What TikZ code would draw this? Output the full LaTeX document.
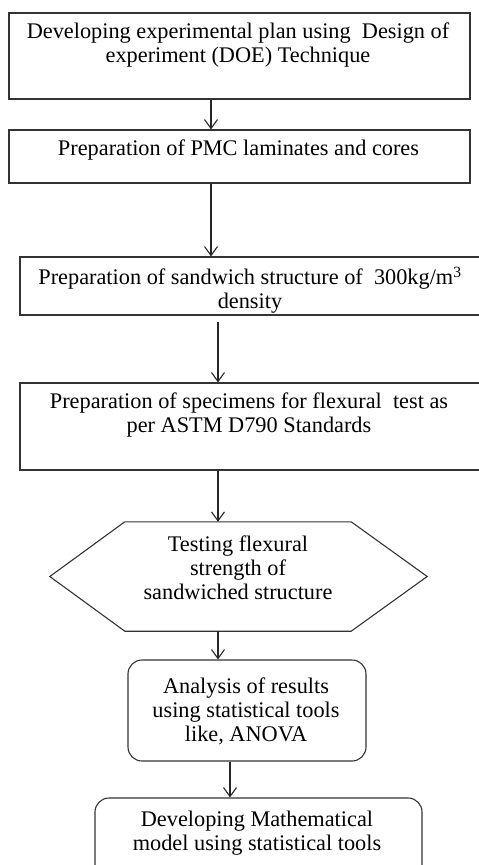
\documentclass[tikz,border=0pt]{standalone}
\usepackage{fontspec}
\setmainfont{Liberation Serif}
\usetikzlibrary{arrows.meta,calc}
\begin{document}
\begin{tikzpicture}[x=1pt,y=-1pt,
  box/.style={draw=black!80, line width=1.1pt, rectangle, inner sep=0pt},
  rbox/.style={box, rounded corners=14pt},
  hexbox/.style={rectangle, inner sep=0pt},
  txt/.style={align=center, font=\fontsize{22.3}{24}\selectfont, inner sep=0pt, text=black},
  arr/.style={draw=black!85, line width=1.1pt, -{Straight Barb[length=9pt,width=13pt]}}]
\useasboundingbox (0,0) rectangle (479,865);
\clip (0,0) rectangle (479,865);
% boxes
\node[box, minimum width=461pt, minimum height=86pt] (b1) at (239.5,56) {};
\node[txt] (t1) at (238,45) {Developing experimental plan using~ Design of\\experiment (DOE) Technique};
\node[box, minimum width=461pt, minimum height=53pt] (b2) at (239.5,156.5) {};
\node[txt] (t2) at (238.5,150) {Preparation of PMC laminates and cores};
\node[box, minimum width=480pt, minimum height=58pt] (b3) at (260,286) {};
\node[txt] (t3) at (250,290) {Preparation of sandwich structure of~ 300kg/m\textsuperscript{3}\\density};
\node[box, minimum width=480pt, minimum height=87pt] (b4) at (260,426.5) {};
\node[txt] (t4) at (249,415) {Preparation of specimens for flexural~ test as\\per ASTM D790 Standards};
\node[hexbox, minimum width=377pt, minimum height=109pt] (hex) at (238.5,576.5) {};
\draw[draw=black!80, line width=1.1pt] (hex.west) -- ([xshift=75pt]hex.north west) -- ([xshift=-76pt]hex.north east) -- (hex.east) -- ([xshift=-76pt]hex.south east) -- ([xshift=75pt]hex.south west) -- cycle;
\node[txt] (t5) at (238,567.5) {Testing flexural\\strength of\\sandwiched structure};
\node[rbox, minimum width=238pt, minimum height=101pt] (b6) at (247,710.5) {};
\node[txt] (t6) at (246,711) {Analysis of results\\using statistical tools\\like, ANOVA};
\node[rbox, minimum width=327pt, minimum height=92pt] (b7) at (258.5,844) {};
\node[txt] (t7) at (257,833.5) {Developing Mathematical\\model using statistical tools};
% arrow columns
\coordinate (xa) at (211,0);
\coordinate (xb) at (218,0);
\coordinate (xc) at (230,0);
\draw[arr] (b1.south -| xa) -- (b2.north -| xa);
\draw[arr] (b2.south -| xa) -- (b3.north -| xa);
\draw[arr, shorten <=6pt] (b3.south -| xb) -- (b4.north -| xb);
\draw[arr] (b4.south -| xb) -- (hex.north -| xb);
\draw[arr] (hex.south -| xb) -- (b6.north -| xb);
\draw[arr] (b6.south -| xc) -- (b7.north -| xc);
\end{tikzpicture}
\end{document}
